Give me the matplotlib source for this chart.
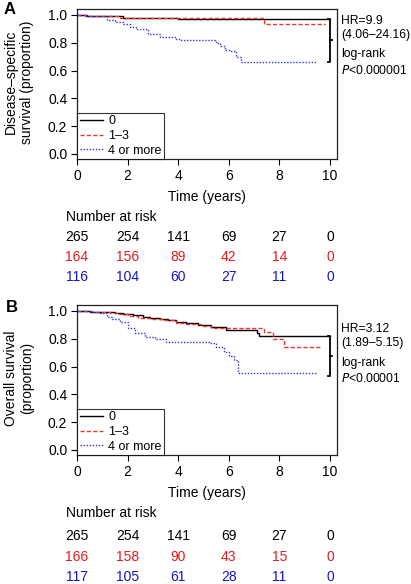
import matplotlib
matplotlib.use("Agg")
import matplotlib.pyplot as plt
from matplotlib.transforms import blended_transform_factory
from matplotlib.lines import Line2D

plt.rcParams['font.family'] = ['Liberation Sans', 'DejaVu Sans']

W, H = 411, 584

# ---------------- Panel A: disease-specific survival ----------------
a_t0 = [0, 0.4, 1.7, 1.8, 4.0, 10.0]
a_s0 = [1.0, 0.995, 0.99, 0.98, 0.972, 0.972]
a_t1 = [0, 0.35, 1.7, 4.0, 7.4, 9.8]
a_s1 = [1.0, 0.99, 0.98, 0.975, 0.933, 0.933]
a_t2 = [0, 0.3, 1.2, 1.5, 1.8, 2.1, 2.35, 2.8, 3.3, 3.9, 4.1, 5.5, 5.65, 5.85, 6.1, 6.3, 6.5, 9.5]
a_s2 = [1.0, 0.99, 0.965, 0.95, 0.935, 0.915, 0.90, 0.865, 0.845, 0.83, 0.82, 0.80, 0.775, 0.748, 0.74, 0.70, 0.664, 0.664]

# ---------------- Panel B: overall survival ----------------
b_t0 = [0, 0.5, 1.0, 1.5, 1.8, 2.2, 2.6, 2.9, 3.3, 3.6, 3.9, 4.3, 4.8, 5.3, 5.9, 7.1, 7.2, 10.0]
b_s0 = [1.0, 0.995, 0.99, 0.985, 0.978, 0.97, 0.96, 0.952, 0.94, 0.932, 0.922, 0.912, 0.899, 0.885, 0.865, 0.845, 0.82, 0.82]
b_t1 = [0, 0.6, 1.3, 1.6, 2.0, 2.4, 2.9, 3.4, 3.9, 4.3, 4.9, 5.3, 6.0, 7.4, 7.75, 8.2, 9.7]
b_s1 = [1.0, 0.993, 0.985, 0.978, 0.965, 0.95, 0.945, 0.935, 0.915, 0.905, 0.895, 0.88, 0.875, 0.85, 0.795, 0.74, 0.74]
b_t2 = [0, 0.5, 0.9, 1.2, 1.4, 1.7, 2.0, 2.3, 2.7, 3.1, 3.5, 5.2, 5.5, 5.8, 6.0, 6.2, 6.35, 9.5]
b_s2 = [1.0, 0.99, 0.985, 0.955, 0.94, 0.92, 0.88, 0.84, 0.815, 0.795, 0.775, 0.77, 0.74, 0.705, 0.675, 0.645, 0.552, 0.552]

groups = ['0', '1–3', '4 or more']
risk_times = [0, 2, 4, 6, 8, 10]
a_risk = [[265, 254, 141, 69, 27, 0],
          [164, 156, 89, 42, 14, 0],
          [116, 104, 60, 27, 11, 0]]
b_risk = [[265, 254, 141, 69, 27, 0],
          [166, 158, 90, 43, 15, 0],
          [117, 105, 61, 28, 11, 0]]

colors = ['black', '#ee3333', '#3333dd']
text_colors = ['black', '#e41a1c', '#1515c8']
styles = ['-', (0, (3, 1.6)), (0, (1, 1.2))]

fig = plt.figure(figsize=(W / 100, H / 100), dpi=100)


def px(x):
    return x / W


def py(y):
    return 1 - y / H


def panel(top, letter, letter_xy, ylabel, data, risk, hr, ci, pval, bracket, ylab_y, ann_y, risk_y):
    ax = fig.add_axes([px(77), py(top + 150), px(260), 150 / H])
    for (t, s), c, ls in zip(data, colors, styles):
        ax.step(t, s, where='post', color=c, linestyle=ls, lw=1.0)
    ax.set_xlim(0, 10.28)
    ax.set_ylim(-0.036, 1.043)
    ax.set_xticks([0, 2, 4, 6, 8, 10])
    ax.set_yticks([0, 0.2, 0.4, 0.6, 0.8, 1.0])
    ax.set_yticklabels(['0.0', '0.2', '0.4', '0.6', '0.8', '1.0'])
    ax.tick_params(direction='out', length=4, width=0.8, labelsize=10, pad=3, colors='black')
    for sp in ax.spines.values():
        sp.set_linewidth(0.9)
        sp.set_color('#222222')
    # bracket
    yt, yb = bracket
    ax.plot([9.93, 10.0, 10.0, 9.93], [yt, yt, yb, yb], color='black', lw=1.3, clip_on=False)
    ax.plot([10.0, 10.08], [(yt + yb) / 2] * 2, color='black', lw=1.3, clip_on=False)
    # legend
    handles = [Line2D([0], [0], color=c, linestyle=ls, lw=1.0) for c, ls in zip(colors, styles)]
    leg = ax.legend(handles, groups, loc='lower left', bbox_to_anchor=(0, 0), frameon=True,
                    fancybox=False, edgecolor='black', fontsize=9, handlelength=1.9,
                    handletextpad=0.4, borderpad=0.2, labelspacing=0.2, borderaxespad=0)
    leg.get_frame().set_linewidth(0.8)
    # texts
    fig.text(px(letter_xy[0]), py(letter_xy[1]), letter, fontsize=12, fontweight='bold',
             ha='center', va='center')
    fig.text(px(19), py(ylab_y), ylabel, rotation=90, fontsize=10, ha='center', va='center',
             multialignment='center', linespacing=1.2)
    fig.text(px(207), py(top + 188), 'Time (years)', fontsize=10, ha='center', va='center')
    lines = [hr, ci, 'log-rank', pval]
    for y, s in zip(ann_y, lines):
        fig.text(px(341), py(y), s, fontsize=8.7, ha='left', va='center')
    fig.text(px(66), py(risk_y[0]), 'Number at risk', fontsize=10, ha='left', va='center')
    tr = blended_transform_factory(ax.transData, fig.transFigure)
    for row, col, y in zip(risk, text_colors, risk_y[1:]):
        for t, n in zip(risk_times, row):
            fig.text(t, py(y), str(n), transform=tr, fontsize=10, color=col, ha='center', va='center')
    return ax


panel(9, 'A', (10, 9), 'Disease–specific\nsurvival (proportion)',
      [(a_t0, a_s0), (a_t1, a_s1), (a_t2, a_s2)], a_risk,
      'HR=9.9', '(4.06–24.16)', r'$\it{P}$<0.000001', (0.972, 0.664),
      82, [21, 35, 54, 70], [217, 237, 257, 277])

panel(305, 'B', (12, 307), 'Overall survival\n(proportion)',
      [(b_t0, b_s0), (b_t1, b_s1), (b_t2, b_s2)], b_risk,
      'HR=3.12', '(1.89–5.15)', r'$\it{P}$<0.00001', (0.82, 0.53),
      378, [329, 343, 363, 379], [513, 536, 557, 577])

fig.savefig('out.png', dpi=100)
